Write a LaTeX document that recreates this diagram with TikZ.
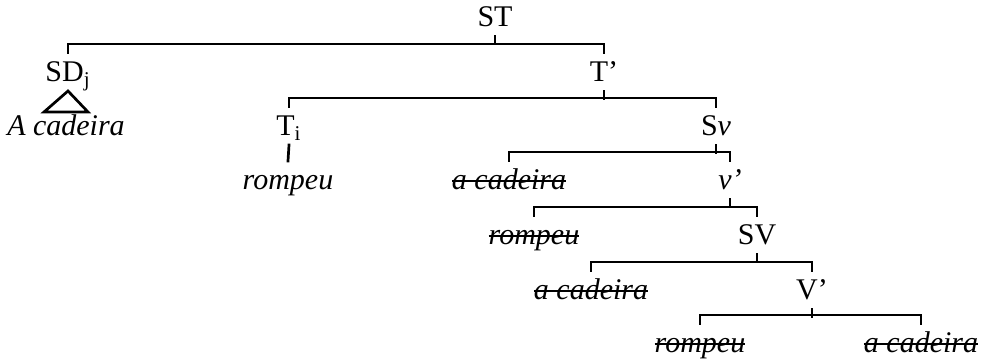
\documentclass[tikz,border=0pt]{standalone}
\usepackage{fontspec}
\setmainfont{Liberation Serif}
% texto riscado (copia apagada)
\newsavebox{\riscobox}
\newcommand{\vestigio}[1]{\sbox{\riscobox}{\textit{#1}}%
  \rlap{\rule[4.1pt]{\wd\riscobox}{0.9pt}}\usebox{\riscobox}}
\begin{document}
\begin{tikzpicture}[x=0.5pt, y=-0.5pt, line width=1.35pt, line cap=rect,
  font=\fontsize{15}{18}\selectfont,
  cat/.style={anchor=base, inner sep=0pt, outer sep=4.5pt, text height=10pt, text depth=0pt}]
\useasboundingbox (0,0) rectangle (985,362);
% categorias e itens lexicais (x = centro, y = linha de base)
\node[cat] (st) at (495,27) {ST};
\node[cat] (sdj) at (68,82) {SD\textsubscript{j}};
\node[cat] (tb) at (604,82) {T’};
\node[cat] (acad) at (66,136) {\textit{A cadeira}};
\node[cat] (ti) at (289,136) {T\textsubscript{i}};
\node[cat] (sv) at (716,136) {S\textit{v}};
\node[cat] (romp1) at (288,190) {\textit{rompeu}};
\node[cat] (cad1) at (509,190) {\vestigio{a cadeira}};
\node[cat] (vb) at (730,190) {\textit{v’}};
\node[cat] (romp2) at (534,245) {\vestigio{rompeu}};
\node[cat] (sV) at (757,245) {SV};
\node[cat] (cad2) at (591,300) {\vestigio{a cadeira}};
\node[cat] (Vb) at (812,300) {V’};
\node[cat] (romp3) at (700,353) {\vestigio{rompeu}};
\node[cat] (cad3) at (921,353) {\vestigio{a cadeira}};
% ramos
\draw (sdj.north) -- ++(0,-9) -| (tb.north) (st.south) -- ++(0,8);
\draw (ti.north) -- ++(0,-9) -| (sv.north) (tb.south) -- ++(0,8);
\draw (cad1.north) -- ++(0,-9) -| (vb.north) (sv.south) -- ++(0,8);
\draw (romp2.north) -- ++(0,-9) -| (sV.north) (vb.south) -- ++(0,8);
\draw (cad2.north) -- ++(0,-9) -| (Vb.north) (sV.south) -- ++(0,8);
\draw (romp3.north) -- ++(0,-9) -| (cad3.north) (Vb.south) -- ++(0,8);
\draw (ti.south) -- (romp1.north);
% triangulo
\draw[line join=miter, line cap=butt] (sdj.south) -- ([xshift=-11pt,yshift=-2.5pt]acad.north)
  -- ([xshift=11pt,yshift=-2.5pt]acad.north) -- cycle;
\end{tikzpicture}
\end{document}
